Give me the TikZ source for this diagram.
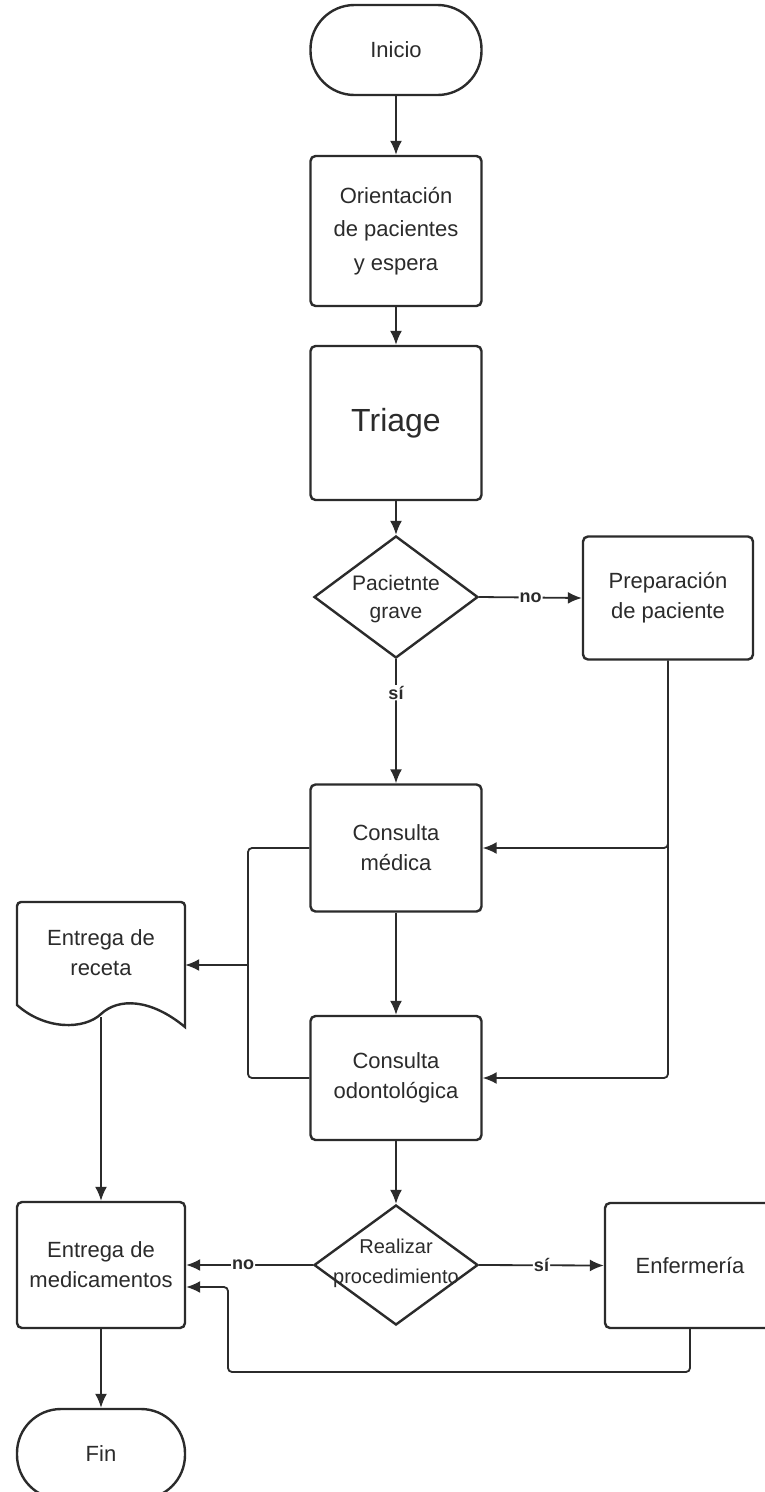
\documentclass[tikz,border=0pt]{standalone}
\usepackage{fontspec}
\setmainfont{Liberation Sans}
\usetikzlibrary{shapes.geometric,arrows.meta}
\definecolor{ink}{HTML}{2B2B2B}
\tikzset{
  box/.style={draw=ink, line width=2.4pt, fill=white, rounded corners=5pt, align=center,
    font=\fontsize{22}{30}\selectfont, text=ink, inner sep=0pt},
  term/.style={box, rounded corners=44pt},
  dec/.style={diamond, draw=ink, line width=2.4pt, fill=white, inner sep=0pt, aspect=1.34},
  dectext/.style={align=center, text=ink, font=\fontsize{21}{28}\selectfont},
  conn/.style={draw=ink, line width=1.8pt, rounded corners=4pt},
  arr/.style={conn, -{Latex[length=14pt,width=12pt]}},
  lab/.style={fill=white, inner sep=1pt, text=ink, font=\fontsize{18}{20}\selectfont\bfseries}
}
\begin{document}
\begin{tikzpicture}[x=1pt,y=1pt]
\useasboundingbox (0,0) rectangle (764,-1492);
\fill[white] (0,0) rectangle (764,-1492);
% nodes
\node[term, minimum width=171pt, minimum height=90pt] (inicio) at (396,-50) {Inicio};
\node[box, minimum width=171pt, minimum height=150pt, font=\fontsize{22}{33.5}\selectfont] (orient) at (396,-231) {Orientación\\de pacientes\\y espera};
\node[box, minimum width=171pt, minimum height=154pt, font=\fontsize{32}{38}\selectfont] (triage) at (396,-423) {Triage};
\node[dec, minimum width=164pt, minimum height=122pt] (d1) at (396,-597) {};
\node[dectext] (d1t) at (396,-599) {Pacietnte\\grave};
\node[box, minimum width=170pt, minimum height=123pt] (prep) at (668,-598) {Preparación\\de paciente};
\node[box, minimum width=171pt, minimum height=127pt] (medica) at (396,-848) {Consulta\\médica};
\node[box, minimum width=171pt, minimum height=124pt] (odonto) at (396,-1078) {Consulta\\odontológica};
% document shape
\draw[draw=ink, line width=2.4pt, fill=white, rounded corners=4pt]
  (17,-1005) -- (17,-902) -- (185,-902) [sharp corners] -- (185,-1027)
  .. controls (150,-998) and (118,-998) .. (101,-1014)
  .. controls (84,-1030) and (45,-1030) .. (17,-1005) -- cycle;
\node[align=center, text=ink, font=\fontsize{22}{30}\selectfont, minimum width=168pt, inner sep=0pt] (receta) at (101,-953) {Entrega de\\receta};
\coordinate (rb) at (101,-1017);
\node[box, minimum width=168pt, minimum height=126pt] (med) at (101,-1265) {Entrega de\\medicamentos};
\node[dec, minimum width=164pt, minimum height=120pt] (d2) at (396,-1265) {};
\node[dectext, font=\fontsize{20}{30}\selectfont] (d2t) at (396,-1263) {Realizar\\procedimiento};
\node[box, minimum width=170pt, minimum height=125pt] (enf) at (690,-1265.5) {Enfermería};
\node[term, minimum width=168pt, minimum height=90pt] (fin) at (101,-1454) {Fin};
% connectors
\draw[arr] (inicio) -- (orient);
\draw[arr] (orient) -- (triage);
\draw[arr] (triage) -- (d1);
\draw[arr] (d1.east) -- node[lab] {no} (prep.west);
\draw[arr] (d1.south) -- node[lab, pos=0.27] {sí} (medica.north);
\draw[arr] (prep.south) |- (medica.east);
\draw[arr] (prep.south) |- (odonto.east);
\draw[arr] (medica) -- (odonto);
\coordinate (jr) at (248,-965);
\draw[conn] (medica.west) -| (jr);
\draw[conn] (odonto.west) -| (jr);
\draw[arr] (jr) -- (jr -| receta.east);
\draw[arr] (rb) -- (med.north);
\draw[arr] (odonto) -- (d2);
\draw[arr] (d2.west) -- node[lab, pos=0.55] {no} (med.east);
\draw[arr] (d2.east) -- node[lab, pos=0.5] {sí} (enf.west);
\coordinate (rr) at (228,-1372);
\coordinate (rl) at (228,-1287);
\draw[arr] (enf.south) |- (rr) -- (rl) -- (rl -| med.east);
\draw[arr] (med) -- (fin);
\end{tikzpicture}
\end{document}
